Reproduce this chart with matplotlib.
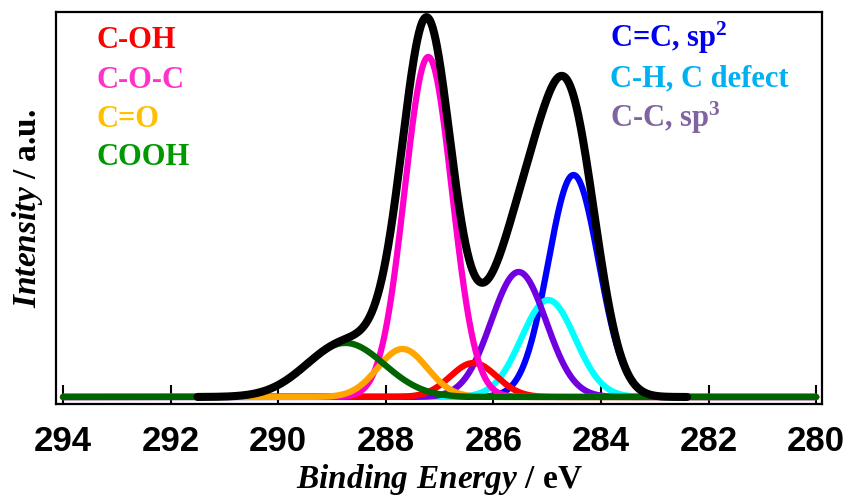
import numpy as np
import matplotlib
matplotlib.use("Agg")
import matplotlib.pyplot as plt

# peak fit (binding energy in eV, height in a.u.)
names = ['C-OH', 'C-O-C', 'C=O', 'COOH', 'C=C, sp$^{2}$', 'C-H, C defect', 'C-C, sp$^{3}$']
centers = [286.37, 287.21, 287.69, 288.75, 284.51, 284.98, 285.53]
heights = [34, 340, 48, 54, 222, 97, 125]
sigmas = [0.43, 0.44, 0.46, 0.72, 0.47, 0.50, 0.51]
line_colors = ['#ff0000', '#ff00cc', '#ffa500', '#006400', '#0000ff', '#00ffff', '#7000e0']
text_colors = ['#ff0000', '#ff33cc', '#ffc000', '#009900', '#0000ee', '#00b0f0', '#8064a2']
# drawing order, bottom to top
order = [4, 5, 6, 0, 1, 2, 3]

envelope_range = (291.5, 282.4)
x_ticks = [294, 292, 290, 288, 286, 284, 282, 280]

plt.rcParams['mathtext.fontset'] = 'custom'
plt.rcParams['mathtext.it'] = 'Liberation Serif:italic:bold'
plt.rcParams['mathtext.rm'] = 'Liberation Serif:bold'


def gauss(x, c, h, s):
    return h * np.exp(-(x - c) ** 2 / (2 * s ** 2))


fig = plt.figure(figsize=(8.51, 4.98), dpi=100)
ax = fig.add_axes([0.0658, 0.1888, 0.9002, 0.7872])

x_all = np.linspace(294, 280, 1400)
for i in order:
    ax.plot(x_all, gauss(x_all, centers[i], heights[i], sigmas[i]),
            color=line_colors[i], lw=4.5, solid_capstyle='round', zorder=2 + order.index(i))

x_env = np.linspace(envelope_range[0], envelope_range[1], 1000)
env = sum(gauss(x_env, c, h, s) for c, h, s in zip(centers, heights, sigmas))
ax.plot(x_env, env, color='black', lw=5.8, solid_capstyle='round', zorder=20)

ax.set_xlim(294.13, 279.89)
ax.set_ylim(-7, 385)
ax.set_yticks([])
ax.set_xticks(x_ticks)
ax.tick_params(axis='x', direction='in', length=14, width=1.5, pad=15,
               top=False, bottom=True)
for lbl in ax.get_xticklabels():
    lbl.set_fontfamily('Liberation Sans')
    lbl.set_fontweight('bold')
    lbl.set_fontsize(25)
for sp in ax.spines.values():
    sp.set_linewidth(1.6)

ax.set_xlabel(r'$\mathit{Binding\ Energy}$ / eV', family='Liberation Serif',
              fontweight='bold', fontsize=24, labelpad=3)
ax.set_ylabel(r'$\mathit{Intensity}$ / a.u.', family='Liberation Serif',
              fontweight='bold', fontsize=24, labelpad=8)

# labels in two columns
left_y = [0.908, 0.806, 0.707, 0.610]
right_y = [0.911, 0.809, 0.707]
for k in range(4):
    ax.text(0.0535, left_y[k], names[k], color=text_colors[k], transform=ax.transAxes,
            family='Liberation Serif', fontweight='bold', fontsize=22, va='baseline')
for k in range(3):
    ax.text(0.723, right_y[k], names[4 + k], color=text_colors[4 + k], transform=ax.transAxes,
            family='Liberation Serif', fontweight='bold', fontsize=22, va='baseline')

fig.savefig('out.png', dpi=100)
